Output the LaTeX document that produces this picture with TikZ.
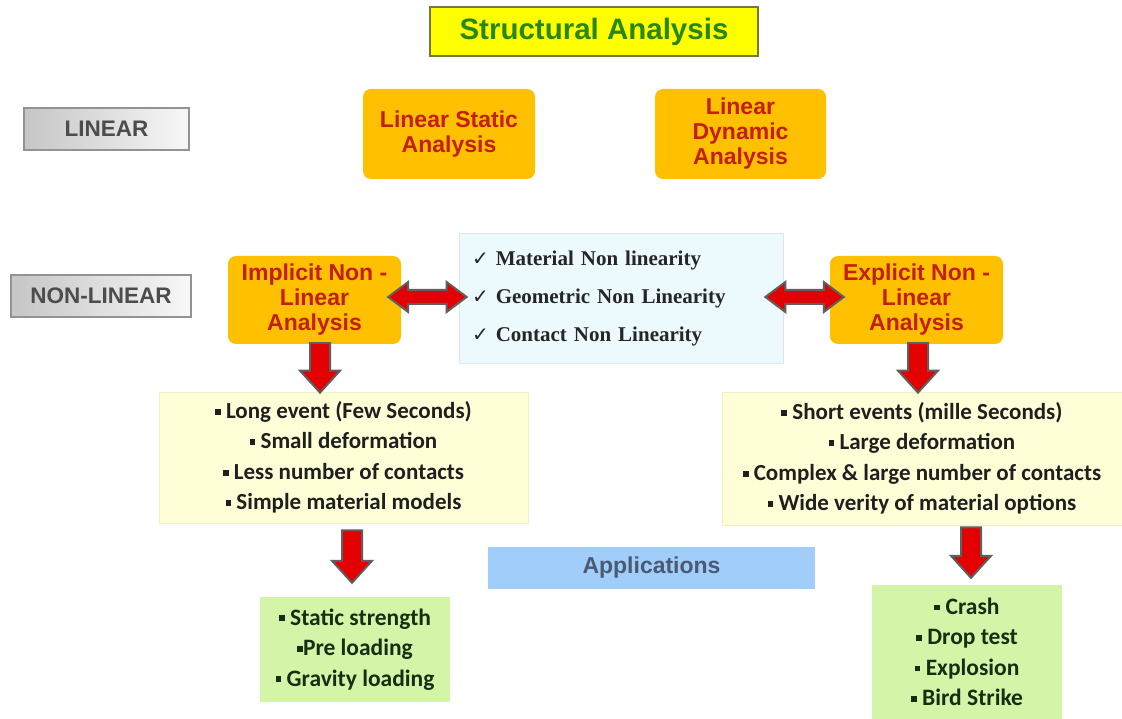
\documentclass[tikz,border=0pt]{standalone}
\usepackage{fontspec}
\setmainfont{Liberation Sans}
\newfontfamily\serifb{Liberation Serif}
\newfontfamily\calib{Carlito}
\newfontfamily\dejavu{DejaVu Sans}
\usetikzlibrary{calc}
\definecolor{titlefill}{RGB}{255,255,0}
\definecolor{titledraw}{RGB}{120,120,60}
\definecolor{titletext}{RGB}{40,135,20}
\definecolor{orangefill}{RGB}{255,192,0}
\definecolor{orangetext}{RGB}{195,30,15}
\definecolor{midfill}{RGB}{236,249,253}
\definecolor{middraw}{RGB}{220,232,236}
\definecolor{yelfill}{RGB}{255,255,215}
\definecolor{yeldraw}{RGB}{240,240,200}
\definecolor{grfill}{RGB}{212,245,168}
\definecolor{grtext}{RGB}{25,45,20}
\definecolor{appfill}{RGB}{160,205,250}
\definecolor{apptext}{RGB}{75,90,115}
\definecolor{arrred}{RGB}{228,0,0}
\definecolor{arrgray}{RGB}{95,95,95}
\newcommand{\bul}{\raisebox{0.17em}{\rule{0.25em}{0.25em}}}
\newcommand{\chk}{{\dejavu\fontsize{20}{20}\selectfont ✓}}
\newcommand{\vfat}[2]{%
  \filldraw[fatarrow] let \p1=#1, \p2=#2 in
    (\x1-10pt,\y1) -- (\x1-10pt,\y2+22pt) -- (\x1-20pt,\y2+22pt) -- (\x1,\y2)
    -- (\x1+20pt,\y2+22pt) -- (\x1+10pt,\y2+22pt) -- (\x1+10pt,\y1) -- cycle;}
\newcommand{\hdfat}[2]{%
  \filldraw[fatarrow] let \p1=#1, \p2=#2 in
    (\x1,\y1) -- (\x1+20pt,\y1+15pt) -- (\x1+20pt,\y1+7pt) -- (\x2-20pt,\y1+7pt)
    -- (\x2-20pt,\y1+15pt) -- (\x2,\y1) -- (\x2-20pt,\y1-15pt) -- (\x2-20pt,\y1-7pt)
    -- (\x1+20pt,\y1-7pt) -- (\x1+20pt,\y1-15pt) -- cycle;}
\tikzset{
  titlebox/.style={draw=titledraw, line width=1.5pt, fill=titlefill, text=titletext,
    font=\bfseries\fontsize{29.5}{32}\selectfont, inner sep=0pt},
  graybox/.style={draw=gray!85, line width=1.3pt, left color=gray!45, right color=gray!6,
    text=black!70, font=\bfseries\fontsize{22.5}{25}\selectfont, inner sep=0pt},
  orangebox/.style={fill=orangefill, rounded corners=8pt, text=orangetext, align=center,
    font=\bfseries\fontsize{23}{25}\selectfont, inner sep=0pt},
  midbox/.style={fill=midfill, draw=middraw, line width=0.8pt, align=left, text=black!85,
    font=\serifb\bfseries\fontsize{21}{38}\selectfont, text width=298pt, inner xsep=13pt, inner ysep=0pt},
  yelbox/.style={fill=yelfill, draw=yeldraw, line width=0.8pt, align=center, text=black!88,
    font=\calib\bfseries\fontsize{23}{30.5}\selectfont, inner sep=0pt},
  greenbox/.style={fill=grfill, align=center, text=grtext,
    font=\calib\bfseries\fontsize{23.5}{30.5}\selectfont, inner sep=0pt},
  appbox/.style={fill=appfill, text=apptext, font=\bfseries\fontsize{23}{25}\selectfont, inner sep=0pt},
  fatarrow/.style={fill=arrred, draw=arrgray, line width=2pt, line join=miter},
}
\begin{document}
\begin{tikzpicture}[x=1pt,y=-1pt]
\useasboundingbox (0,0) rectangle (1122,719);
\fill[white] (0,0) rectangle (1122,719);
% title
\node[titlebox, minimum width=328pt, minimum height=49pt] (title) at (594,31.5) {Structural Analysis};
% row labels
\node[graybox, minimum width=165pt, minimum height=42pt] (lin) at (106.5,129) {LINEAR};
\node[graybox, minimum width=180pt, minimum height=42pt] (nonlin) at (101,296) {NON-LINEAR};
% linear analyses
\node[orangebox, minimum width=172pt, minimum height=90pt] (lsa) at (449,134) {Linear Static\\Analysis};
\node[orangebox, minimum width=171pt, minimum height=90pt] (lda) at (740.5,134) {Linear\\Dynamic\\Analysis};
% non-linear
\node[orangebox, minimum width=173pt, minimum height=88pt] (imp) at (314.5,300) {Implicit Non -\\Linear\\Analysis};
\node[orangebox, minimum width=173pt, minimum height=88pt] (exp) at (916.5,300) {Explicit Non -\\Linear\\Analysis};
\node[midbox, minimum height=130pt] (mid) at (621,298)
  {\raisebox{-5pt}{\chk\ Material Non linearity}\\\raisebox{-5pt}{\chk\ Geometric Non Linearity}\\\raisebox{-5pt}{\chk\ Contact Non Linearity}};
% characteristics
\node[yelbox, minimum width=369pt, minimum height=131pt] (lyel) at (343.5,457.5)
  {\bul\ Long event (Few Seconds)\\\bul\ Small deformation\\\bul\ Less number of contacts\\\bul\ Simple material models};
\node[yelbox, minimum width=400pt, minimum height=133pt] (ryel) at (922,458.5)
  {\bul\ Short events (mille Seconds)\\\bul\ Large deformation\\\bul\ Complex \& large number of contacts\\\bul\ Wide verity of material options};
% applications
\node[appbox, minimum width=327pt, minimum height=42pt] (app) at (651.5,568) {Applications};
\node[greenbox, minimum width=190pt, minimum height=105pt] (lgr) at (355,649.5)
  {\bul\ Static strength\\\bul Pre loading\\\bul\ Gravity loading};
\node[greenbox, minimum width=190pt, minimum height=134pt] (rgr) at (967,652)
  {\bul\ Crash\\\bul\ Drop test\\\bul\ Explosion\\\bul\ Bird Strike};
% arrows
\hdfat{($(imp.east)+(-13,-3)$)}{($(mid.west)+(8,0)$)}
\hdfat{($(mid.east)+(-18,-1)$)}{($(exp.west)+(14,0)$)}
\vfat{($(imp.south)+(5.5,-1)$)}{($(lyel.north)+(0,1)$)}
\vfat{($(exp.south)+(1.5,-1)$)}{($(ryel.north)+(0,1)$)}
\vfat{($(lyel.south)+(8.5,7)$)}{($(lgr.north)+(0,-14)$)}
\vfat{($(ryel.south)+(49,2)$)}{($(rgr.north)+(0,-7)$)}
\end{tikzpicture}
\end{document}
